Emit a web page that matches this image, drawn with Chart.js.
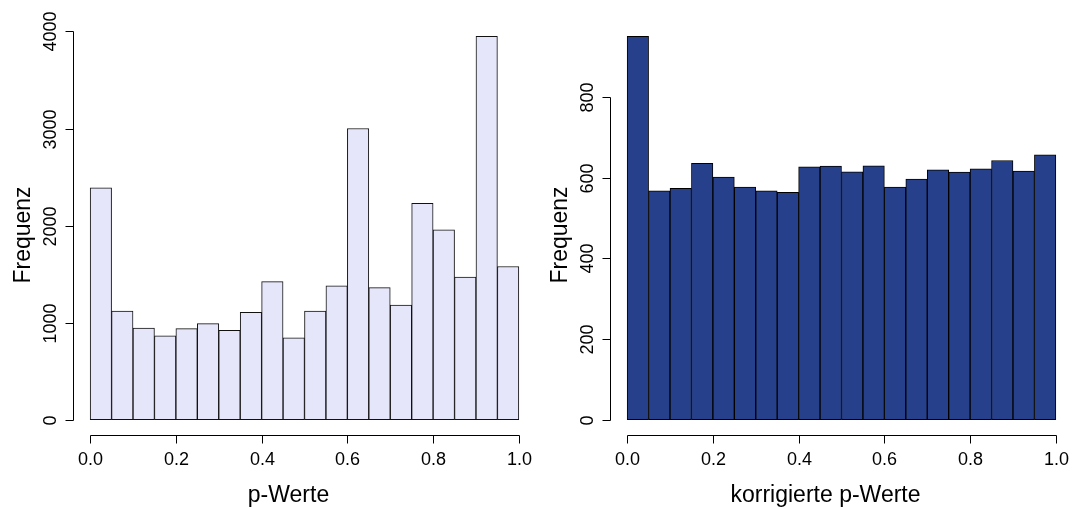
<!DOCTYPE html>
<html>
<head>
<meta charset="utf-8">
<script src="https://cdn.jsdelivr.net/npm/chart.js@4/dist/chart.umd.min.js"></script>
<style>
body { margin: 0; background: #fff; }
.panel { position: absolute; top: 0; width: 538px; height: 509px; }
</style>
</head>
<body>
<div class="panel" style="left:0"><canvas id="rawHist" width="538" height="509"></canvas></div>
<div class="panel" style="left:538px"><canvas id="adjHist" width="538" height="509"></canvas></div>
<script>
// histogram bins: 20 classes of width 0.05 on [0, 1]
let binStarts = [0.00, 0.05, 0.10, 0.15, 0.20, 0.25, 0.30, 0.35, 0.40, 0.45,
                 0.50, 0.55, 0.60, 0.65, 0.70, 0.75, 0.80, 0.85, 0.90, 0.95];
let binWidth = 0.05;

// counts per bin
let rawCounts = [2390, 1120, 945, 863, 938, 990, 921, 1105, 1422, 842,
                 1120, 1378, 3000, 1360, 1182, 2230, 1955, 1470, 3950, 1578];
let adjCounts = [951, 568, 574, 636, 602, 577, 568, 564, 627, 629,
                 615, 630, 577, 597, 620, 614, 622, 643, 617, 657];

// axis ticks
let xTicks = [0, 0.2, 0.4, 0.6, 0.8, 1.0];
let xTickLabels = ["0.0", "0.2", "0.4", "0.6", "0.8", "1.0"];
let rawYTicks = [0, 1000, 2000, 3000, 4000];
let adjYTicks = [0, 200, 400, 600, 800];

let fontFamily = '"Liberation Sans", Arial, Helvetica, sans-serif';

// base-graphics style axes: detached lines, outward ticks, rotated y labels
const rAxes = {
  id: 'rAxes',
  afterDraw(chart, args, opts) {
    let ctx = chart.ctx;
    let x = chart.scales.x;
    let y = chart.scales.y;
    let area = chart.chartArea;

    ctx.save();
    ctx.strokeStyle = "#000";
    ctx.fillStyle = "#000";
    ctx.lineWidth = 1;

    function line(x1, y1, x2, y2) {
      ctx.beginPath();
      ctx.moveTo(x1, y1);
      ctx.lineTo(x2, y2);
      ctx.stroke();
    }

    // y axis
    let ax = Math.round(area.left) + 0.5;
    let yt = opts.yTicks;
    line(ax, Math.round(y.getPixelForValue(yt[yt.length - 1])) + 0.5, ax, Math.round(y.getPixelForValue(yt[0])) + 0.5);
    ctx.font = "18px " + fontFamily;
    ctx.textAlign = "center";
    ctx.textBaseline = "alphabetic";
    yt.forEach(function(v) {
      let py = Math.round(y.getPixelForValue(v)) + 0.5;
      line(ax - 8, py, ax, py);
      ctx.save();
      ctx.translate(ax - 18, py);
      ctx.rotate(-Math.PI / 2);
      ctx.fillText(String(v), 0, 0);
      ctx.restore();
    });

    // x axis
    let ay = Math.round(area.bottom) + 0.5;
    line(Math.round(x.getPixelForValue(xTicks[0])) + 0.5, ay, Math.round(x.getPixelForValue(xTicks[xTicks.length - 1])) + 0.5, ay);
    xTicks.forEach(function(v, i) {
      let px = Math.round(x.getPixelForValue(v)) + 0.5;
      line(px, ay, px, ay + 8);
      ctx.fillText(xTickLabels[i], px, ay + 29);
    });

    // axis titles
    ctx.font = "23px " + fontFamily;
    ctx.fillText(opts.xTitle, (area.left + area.right) / 2 - 16, ay + 66);
    ctx.save();
    ctx.translate(ax - 44, (area.top + area.bottom) / 2 + 7);
    ctx.rotate(-Math.PI / 2);
    ctx.fillText(opts.yTitle, 0, 0);
    ctx.restore();

    ctx.restore();
  }
};

function makeHist(canvasId, counts, yTicks, fill, border, xTitle, pad) {
  let maxCount = Math.max.apply(null, counts);
  let points = binStarts.map(function(b, i) {
    return { x: b + binWidth / 2, y: counts[i] };
  });

  return new Chart(document.getElementById(canvasId), {
    type: 'bar',
    data: {
      datasets: [{
        data: points,
        backgroundColor: fill,
        borderColor: border,
        borderWidth: 1,
        borderSkipped: false,
        barPercentage: 1,
        categoryPercentage: 1
      }]
    },
    options: {
      responsive: false,
      animation: false,
      devicePixelRatio: 1,
      layout: { padding: pad },
      scales: {
        x: { type: 'linear', min: -0.04, max: 1.04, offset: false, display: false },
        y: { type: 'linear', min: -0.04 * maxCount, max: 1.04 * maxCount, display: false }
      },
      plugins: {
        legend: { display: false },
        tooltip: { enabled: false },
        rAxes: { yTicks: yTicks, xTitle: xTitle, yTitle: "Frequenz" }
      }
    },
    plugins: [rAxes]
  });
}

makeHist("rawHist", rawCounts, rawYTicks, "#E6E6FA", "#111", "p-Werte",
  { left: 73, right: 2, top: 21, bottom: 74 });
makeHist("adjHist", adjCounts, adjYTicks, "#27408B", "#000", "korrigierte p-Werte",
  { left: 72, right: 3, top: 21, bottom: 74 });
</script>
</body>
</html>
